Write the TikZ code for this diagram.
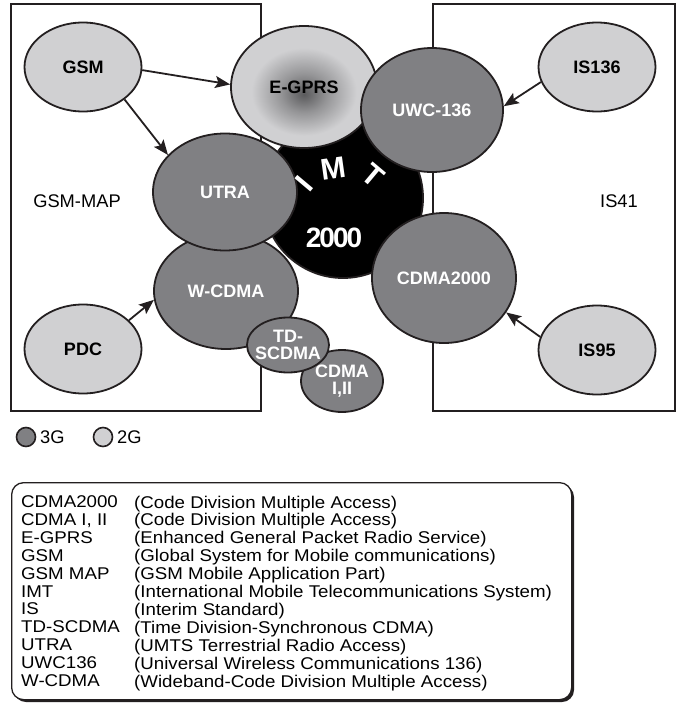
\documentclass[tikz,border=0pt]{standalone}
\usepackage{fontspec}
\setmainfont{Liberation Sans}
\newfontfamily\glossfam[FakeStretch=1.1]{Liberation Sans}
\usetikzlibrary{arrows.meta,shapes.geometric}
\definecolor{threeg}{HTML}{808083}
\definecolor{twog}{HTML}{D0D0D2}
\definecolor{edgec}{HTML}{231F20}
\definecolor{egdark}{HTML}{5A5A5C}
\definecolor{egmid}{HTML}{959597}
\pgfdeclareradialshading{egprsshade}{\pgfpoint{0bp}{-3bp}}{color(0bp)=(egdark); color(8bp)=(egmid); color(18bp)=(twog); color(50bp)=(twog)}
\newcommand{\glossfont}{\glossfam\fontsize{17}{17.9}\selectfont\lineskiplimit-100pt\relax}
\begin{document}
\begin{tikzpicture}[x=1pt,y=-1pt,
  region/.style={draw=edgec, line width=2pt},
  blob/.style={ellipse, draw=edgec, line width=1.8pt, inner sep=0pt},
  oldstd/.style={blob, fill=twog},
  newstd/.style={blob, fill=threeg},
  dlbl/.style={font=\fontsize{18}{19}\selectfont\bfseries, text=black, align=center},
  wlbl/.style={font=\fontsize{18}{17}\selectfont\bfseries, text=white, align=center},
  imtl/.style={font=\fontsize{30}{30}\selectfont\bfseries, text=white, inner sep=0pt},
  arr/.style={draw=edgec, line width=1.8pt, -{Stealth[length=15pt,width=12pt,inset=3pt]}},
  plain/.style={font=\fontsize{18.3}{20}\selectfont, text=black},
  legtxt/.style={font=\glossfont, align=left, inner sep=0pt, anchor=north west, text=black}
]
\useasboundingbox (0,0) rectangle (678,707);

% regions
\node[region, minimum width=250pt, minimum height=407pt, inner sep=0pt] (gsmmap) at (136,207.5) {};
\node[region, minimum width=242pt, minimum height=407pt, inner sep=0pt] (is41box) at (554,207.5) {};
\node[plain] (gsmmaplbl) at (77,201) {GSM-MAP};
\node[plain] (is41lbl) at (619,201) {IS41};

% IMT core
\node[circle, fill=black, draw=edgec, line width=1.8pt, minimum size=160pt, inner sep=0pt] (imt) at (343,198) {};

% 3G / E-GPRS blobs
\node[blob, shading=egprsshade, minimum width=146pt, minimum height=122pt, label={[dlbl]center:E-GPRS}] (egprs) at (304,87) {};
\node[newstd, minimum width=142pt, minimum height=124pt, label={[wlbl]center:UWC-136}] (uwc) at (432,110) {};
\node[newstd, minimum width=82pt, minimum height=62pt, label={[wlbl]center:CDMA\\I,II}] (cdmaii) at (342,381) {};
\node[newstd, minimum width=144pt, minimum height=116pt, label={[wlbl]center:W-CDMA}] (wcdma) at (226,291) {};
\node[newstd, minimum width=82pt, minimum height=55pt, label={[wlbl]center:TD-\\SCDMA}] (tdscdma) at (288,345) {};
\node[newstd, minimum width=144pt, minimum height=117pt, label={[wlbl]center:UTRA}] (utra) at (225,192) {};
\node[newstd, minimum width=144pt, minimum height=130pt, label={[wlbl]center:CDMA2000}] (cdma2000) at (444,278) {};

% IMT-2000 lettering
\node[imtl, rotate=50] (li) at (304,184) {I};
\node[imtl, rotate=8] (lm) at (333,169) {M};
\node[imtl, rotate=-40] (lt) at (373,175) {T};
\node[imtl, font=\fontsize{28}{28}\selectfont\bfseries] (l2000) at (334,238) {2\kern-2pt0\kern-2pt0\kern-2pt0};

% 2G blobs
\node[oldstd, minimum width=117pt, minimum height=89pt, label={[dlbl]center:GSM}] (gsm) at (83,67) {};
\node[oldstd, minimum width=117pt, minimum height=89pt, label={[dlbl]center:PDC}] (pdc) at (83,349) {};
\node[oldstd, minimum width=117pt, minimum height=89pt, label={[dlbl]center:IS136}] (is136) at (597,67) {};
\node[oldstd, minimum width=117pt, minimum height=89pt, label={[dlbl]center:IS95}] (is95) at (597,350) {};

% arrows
\draw[arr] (gsm.-3) -- (egprs.178);
\draw[arr] (gsm.-38) -- (utra.147);
\draw[arr] (pdc.32) -- (wcdma.187);
\draw[arr] (is136.195) -- (uwc.3);
\draw[arr] (is95.167) -- (cdma2000.-29);

% legend
\node[circle, draw=edgec, line width=1.6pt, fill=threeg, minimum size=19pt, inner sep=0pt] (k3g) at (26,437) {};
\node[plain, anchor=west, inner sep=0pt] (k3glbl) at (40,437) {3G};
\node[circle, draw=edgec, line width=1.6pt, fill=twog, minimum size=19pt, inner sep=0pt] (k2g) at (103,437) {};
\node[plain, anchor=west, inner sep=0pt] (k2glbl) at (117,437) {2G};

% glossary box
\fill[edgec, rounded corners=12pt] (14,485) rectangle (574,702);
\node[draw=edgec, line width=1.3pt, fill=white, rounded corners=12pt, minimum width=560pt, minimum height=217pt, inner sep=0pt, anchor=north west] (gloss) at (11,482) {};
\node[legtxt] (keys) at (21,495.5) {CDMA2000\\CDMA I, II\\E-GPRS\\GSM\\GSM MAP\\IMT\\IS\\TD-SCDMA\\UTRA\\UWC136\\W-CDMA};
\node[legtxt] (descs) at (134,495.5) {(Code Division Multiple Access)\\(Code Division Multiple Access)\\(Enhanced General Packet Radio Service)\\(Global System for Mobile communications)\\(GSM Mobile Application Part)\\(International Mobile Telecommunications System)\\(Interim Standard)\\(Time Division-Synchronous CDMA)\\(UMTS Terrestrial Radio Access)\\(Universal Wireless Communications 136)\\(Wideband-Code Division Multiple Access)};
\end{tikzpicture}
\end{document}
